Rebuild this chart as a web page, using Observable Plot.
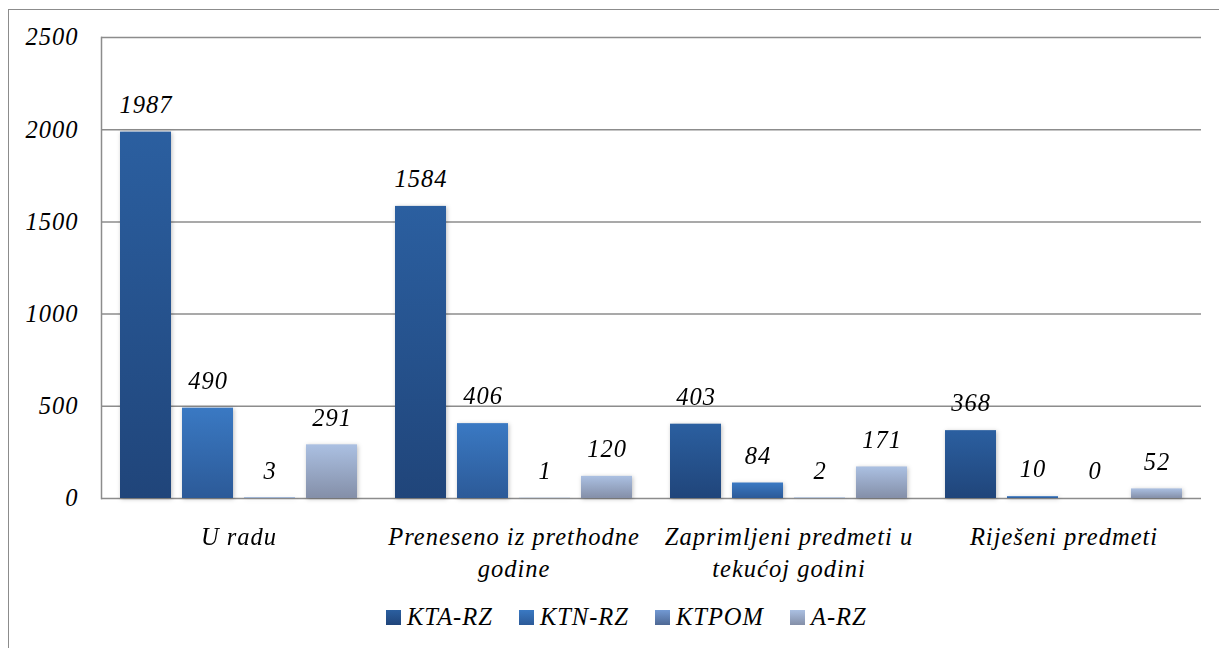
<!DOCTYPE html>
<html>
<head>
<meta charset="utf-8">
<script src="https://cdn.jsdelivr.net/npm/d3@7"></script>
<script src="https://cdn.jsdelivr.net/npm/@observablehq/plot@0.6"></script>
<style>
  html, body { margin: 0; padding: 0; background: #fff; overflow: hidden; width: 1219px; height: 648px; }
  #border { position: absolute; left: 8px; top: 9px; width: 1240px; height: 660px; border: 1.5px solid #8c8c8c; box-sizing: border-box; }
  #chart { position: absolute; left: 0; top: 0; }
  #legend { position: absolute; left: 386px; top: 603px; display: flex; align-items: center;
            font-family: "Liberation Serif", "Times New Roman", serif; font-style: italic; font-size: 24.5px; letter-spacing: 1px; color: #000; }
  .item { display: flex; align-items: center; margin-right: 26px; }
  .sw { width: 15px; height: 15px; margin-right: 6px; }
</style>
</head>
<body>
<div id="border"></div>
<div id="chart"></div>
<div id="legend"></div>
<script>
const categories = ["U radu", "Preneseno iz prethodne godine", "Zaprimljeni predmeti u tekućoj godini", "Riješeni predmeti"];
const categoryLabels = ["U radu", "Preneseno iz prethodne\ngodine", "Zaprimljeni predmeti u\ntekućoj godini", "Riješeni predmeti"];
const series = ["KTA-RZ", "KTN-RZ", "KTPOM", "A-RZ"];
const ktaRz = [1987, 1584, 403, 368];
const ktnRz = [490, 406, 84, 10];
const ktpom = [3, 1, 2, 0];
const aRz = [291, 120, 171, 52];
const yTicks = [0, 500, 1000, 1500, 2000, 2500];
const colorTop = ["#2b5fa0", "#3a79c3", "#7299d3", "#abc0e2"];
const colorBottom = ["#20457a", "#2c5a98", "#4e6894", "#848fa8"];

const seriesValues = [ktaRz, ktnRz, ktpom, aRz];
const data = [];
categories.forEach((c, ci) => {
  series.forEach((s, si) => data.push({category: c, series: s, value: seriesValues[si][ci]}));
});

const font = "'Liberation Serif', 'Times New Roman', serif";
const svg = Plot.plot({
  width: 1219,
  height: 590,
  marginLeft: 100,
  marginRight: 17,
  marginTop: 37,
  marginBottom: 92,
  style: {fontFamily: font, fontStyle: "italic", fontSize: "24.5px", letterSpacing: "1px", color: "#000", background: "transparent", overflow: "visible"},
  fx: {domain: categories, padding: 0, label: null},
  x: {domain: series, paddingInner: 0.17, paddingOuter: 0.28, axis: null},
  y: {domain: [0, 2500], label: null},
  color: {domain: series, range: series.map((d, i) => `url(#grad${i})`)},
  marks: [
    Plot.ruleY(yTicks, {stroke: "#8c8c8c", strokeWidth: 1.5}),
    Plot.frame({anchor: "left", facetAnchor: "left", stroke: "#8c8c8c", strokeWidth: 1.5}),
    Plot.barY(data, {fx: "category", x: "series", y: "value", fill: "series"}),
    Plot.text(data, {fx: "category", x: "series", y: "value", text: d => String(d.value), dy: -27, fill: "#000"}),
    Plot.axisY({ticks: yTicks, tickSize: 0, tickPadding: 23, label: null, fill: "#000", tickFormat: d => String(d)}),
    Plot.axisFx({anchor: "bottom", tickSize: 0, tickPadding: 24, label: null, lineHeight: 1.3, fill: "#000",
      tickFormat: d => categoryLabels[categories.indexOf(d)]})
  ]
});

const ns = "http://www.w3.org/2000/svg";
const defs = document.createElementNS(ns, "defs");
series.forEach((s, i) => {
  const g = document.createElementNS(ns, "linearGradient");
  g.setAttribute("id", `grad${i}`);
  g.setAttribute("x1", "0"); g.setAttribute("y1", "0");
  g.setAttribute("x2", "0"); g.setAttribute("y2", "1");
  [[0, colorTop[i]], [1, colorBottom[i]]].forEach(([o, c]) => {
    const st = document.createElementNS(ns, "stop");
    st.setAttribute("offset", o);
    st.setAttribute("stop-color", c);
    g.appendChild(st);
  });
  defs.appendChild(g);
});
svg.insertBefore(defs, svg.firstChild);
svg.querySelectorAll('g[aria-label="bar"]').forEach(g => g.style.filter = "drop-shadow(1px 1px 2px rgba(0,0,0,0.25))");
document.getElementById("chart").appendChild(svg);

const legend = document.getElementById("legend");
series.forEach((s, i) => {
  const item = document.createElement("div");
  item.className = "item";
  const sw = document.createElement("div");
  sw.className = "sw";
  sw.style.background = `linear-gradient(${colorTop[i]}, ${colorBottom[i]})`;
  const t = document.createElement("span");
  t.textContent = s;
  item.appendChild(sw);
  item.appendChild(t);
  legend.appendChild(item);
});
</script>
</body>
</html>
